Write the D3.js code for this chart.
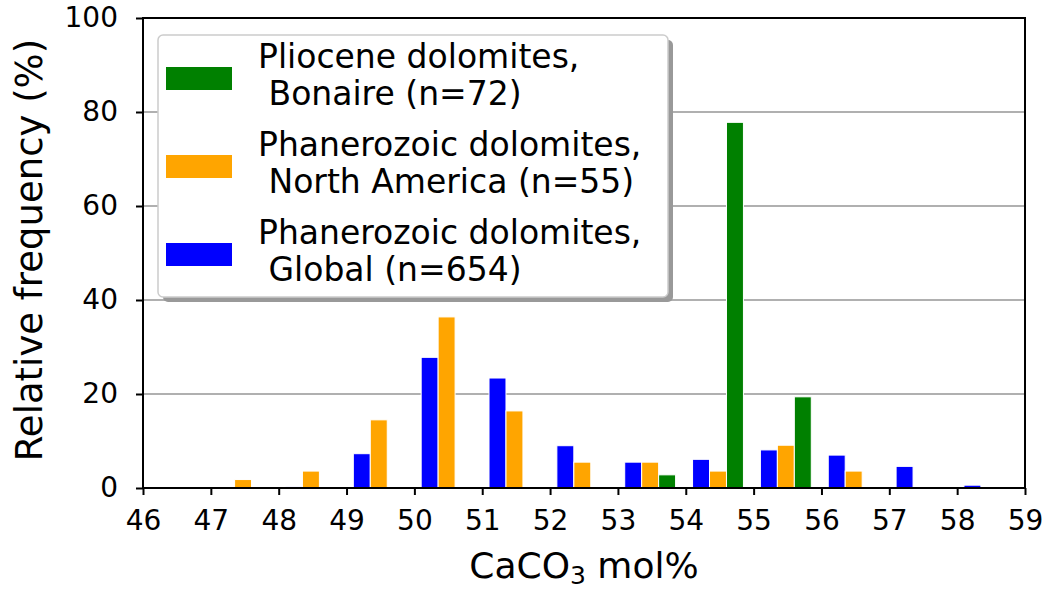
<!DOCTYPE html>
<html>
<head>
<meta charset="utf-8">
<script src="https://cdn.jsdelivr.net/npm/d3@7"></script>
<style>
  body { margin: 0; background: #fff; }
  text { font-family: "DejaVu Sans", sans-serif; fill: #000; }
</style>
</head>
<body>
<div id="chart"></div>
<script>
// bin left edges (CaCO3 mol%)
const bins = [47, 48, 49, 50, 51, 52, 53, 54, 55, 56, 57, 58];

// relative frequency (%) per bin
const globalVals = [0.15, 0.3, 7.3, 27.8, 23.4, 9.0, 5.5, 6.1, 8.1, 7.0, 4.6, 0.6];
const northAmVals = [1.8, 3.6, 14.5, 36.4, 16.4, 5.5, 5.5, 3.6, 9.1, 3.6, 0, 0];
const bonaireVals = [0, 0, 0, 0, 0, 0, 2.8, 77.8, 19.4, 0, 0, 0];

const xTicks = d3.range(46, 60);
const yTicks = [0, 20, 40, 60, 80, 100];

const legendLabels = [
  ["Pliocene dolomites,", " Bonaire (n=72)"],
  ["Phanerozoic dolomites,", " North America (n=55)"],
  ["Phanerozoic dolomites,", " Global (n=654)"]
];
const legendColors = ["green", "orange", "blue"];

const width = 1049, height = 592;
const margin = {top: 18, right: 24, bottom: 104, left: 143};

const svg = d3.select("#chart").append("svg")
  .attr("width", width)
  .attr("height", height);

const x = d3.scaleLinear().domain([46, 59]).range([margin.left, width - margin.right]);
const y = d3.scaleLinear().domain([0, 100]).range([height - margin.bottom, margin.top]);

// grid lines behind everything
svg.append("g")
  .selectAll("line")
  .data(yTicks.filter(d => d > 0 && d < 100))
  .join("line")
  .attr("x1", x(46)).attr("x2", x(59))
  .attr("y1", d => y(d)).attr("y2", d => y(d))
  .attr("stroke", "#b0b0b0")
  .attr("stroke-width", 2);

// three bars per bin: blue, orange, green
const series = [
  {vals: globalVals, color: "blue", off: 0.1},
  {vals: northAmVals, color: "orange", off: 0.35},
  {vals: bonaireVals, color: "green", off: 0.6}
];
const barW = 0.25;

series.forEach(s => {
  svg.append("g")
    .selectAll("rect")
    .data(bins.map((b, i) => ({b: b, v: s.vals[i]})).filter(d => d.v > 0))
    .join("rect")
    .attr("x", d => x(d.b + s.off))
    .attr("width", x(d3.min(bins) + barW) - x(d3.min(bins)))
    .attr("y", d => y(d.v))
    .attr("height", d => y(0) - y(d.v))
    .attr("fill", s.color)
    .attr("stroke", "white")
    .attr("stroke-width", 1);
});

// axes
const xAxis = svg.append("g")
  .attr("transform", `translate(0,${y(0)})`)
  .call(d3.axisBottom(x).tickValues(xTicks).tickFormat(d3.format("d")).tickSize(7).tickPadding(15));

const yAxis = svg.append("g")
  .attr("transform", `translate(${x(46)},0)`)
  .call(d3.axisLeft(y).tickValues(yTicks).tickSize(7).tickPadding(18));

[xAxis, yAxis].forEach(a => {
  a.select(".domain").remove();
  a.selectAll(".tick line").attr("stroke", "#000").attr("stroke-width", 2);
  a.selectAll(".tick text").attr("font-size", 28).attr("font-family", "DejaVu Sans").attr("fill", "#000");
});

// frame (all four spines)
svg.append("rect")
  .attr("x", x(46)).attr("y", y(100))
  .attr("width", x(59) - x(46)).attr("height", y(0) - y(100))
  .attr("fill", "none")
  .attr("stroke", "#000")
  .attr("stroke-width", 2);

// axis labels
const xLabel = svg.append("text")
  .attr("x", (x(46) + x(59)) / 2)
  .attr("y", 578)
  .attr("text-anchor", "middle")
  .attr("font-size", 36);
xLabel.append("tspan").text("CaCO");
xLabel.append("tspan").text("3").attr("font-size", 25).attr("dy", 6);
xLabel.append("tspan").text(" mol%").attr("dy", -6);

svg.append("text")
  .attr("transform", `translate(42,250) rotate(-90)`)
  .attr("text-anchor", "middle")
  .attr("font-size", 37)
  .text("Relative frequency (%)");

// legend with shadow
const lg = svg.append("g");
const lx = 158, ly = 35, lw = 510, lh = 262;

lg.append("rect")
  .attr("x", lx + 5).attr("y", ly + 5)
  .attr("width", lw).attr("height", lh)
  .attr("rx", 5)
  .attr("fill", "#999");

lg.append("rect")
  .attr("x", lx).attr("y", ly)
  .attr("width", lw).attr("height", lh)
  .attr("rx", 5)
  .attr("fill", "white")
  .attr("stroke", "#cccccc")
  .attr("stroke-width", 1.5);

legendLabels.forEach((lines, i) => {
  const cy = 78.5 + i * 88;
  lg.append("rect")
    .attr("x", 166).attr("y", cy - 11.5)
    .attr("width", 66).attr("height", 23)
    .attr("fill", legendColors[i]);
  const t = lg.append("text")
    .attr("x", 258)
    .attr("y", cy - 10.5)
    .attr("font-size", 33);
  t.append("tspan").attr("x", 258).text(lines[0]);
  t.append("tspan").attr("x", 258).attr("dy", 37).style("white-space", "pre").text(lines[1]);
});
</script>
</body>
</html>
